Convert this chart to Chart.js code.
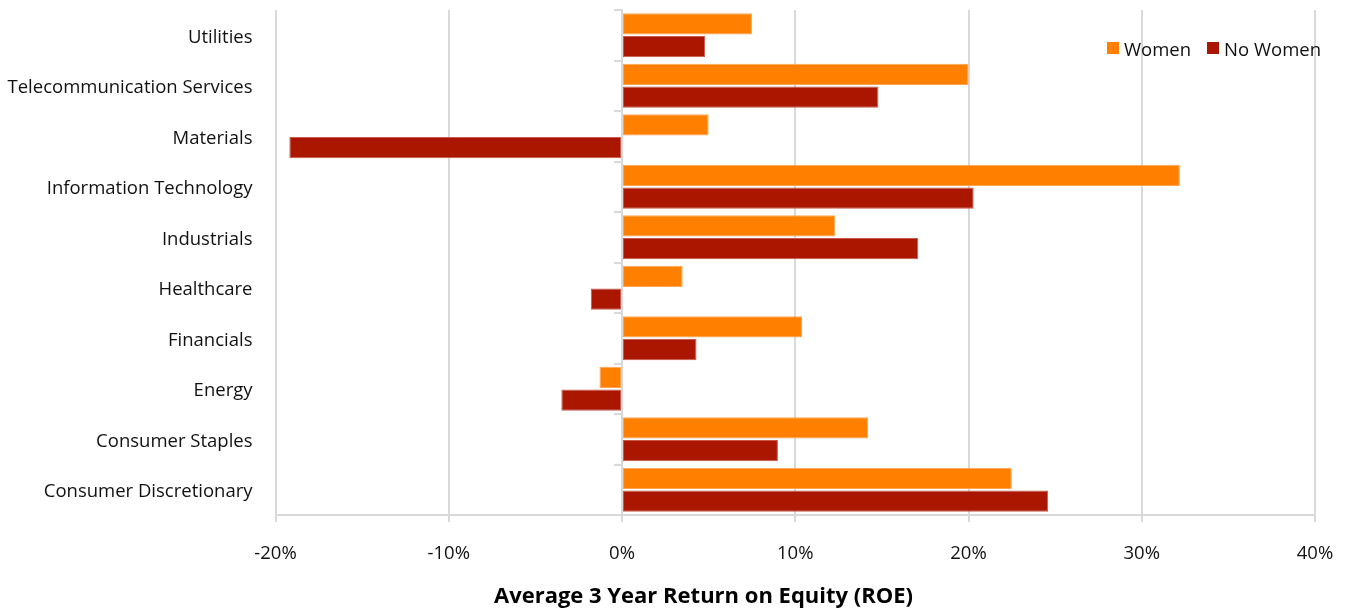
<!DOCTYPE html>
<html>
<head>
<meta charset="utf-8">
<script src="https://cdn.jsdelivr.net/npm/chart.js@4.4.1/dist/chart.umd.min.js"></script>
<style>
  html, body { margin: 0; padding: 0; background: #ffffff; }
  #wrap { position: relative; width: 1349px; height: 612px; }
  #chart { display: block; }
  #legend { position: absolute; left: 1107px; top: 38px; height: 20px; display: flex; align-items: center;
            font-family: "Open Sans", sans-serif; font-size: 18.5px; color: #111111; white-space: nowrap; }
  .item { display: flex; align-items: center; margin-right: 16px; }
  .swatch { width: 12px; height: 12px; margin-right: 5px; }
  #axisTitle { position: absolute; left: 0; width: 1407px; top: 581px; text-align: center;
               font-family: "Open Sans", sans-serif; font-weight: bold; font-size: 22px; line-height: 26px;
               color: #000000; white-space: nowrap; }
</style>
</head>
<body>
<div id="wrap">
  <canvas id="chart" width="1349" height="612"></canvas>
  <div id="legend"></div>
  <div id="axisTitle"></div>
</div>
<script>
// ---- data ----
const categories = [
  "Utilities",
  "Telecommunication Services",
  "Materials",
  "Information Technology",
  "Industrials",
  "Healthcare",
  "Financials",
  "Energy",
  "Consumer Staples",
  "Consumer Discretionary"
];
const women   = [7.5, 20.0,   5.0, 32.2, 12.3,  3.5, 10.4, -1.3, 14.2, 22.5];
const noWomen = [4.8, 14.8, -19.2, 20.3, 17.1, -1.8,  4.3, -3.5,  9.0, 24.6];
const seriesNames = ["Women", "No Women"];
const xTickValues = [-20, -10, 0, 10, 20, 30, 40];
const axisTitle = "Average 3 Year Return on Equity (ROE)";

// ---- styles ----
const colors = ["#ff7f00", "#aa1600"];
const edgeColors = ["#ffa552", "#c75a4c"];
const fontFamily = "'Open Sans', sans-serif";
const gridColor = "#d9d9d9";

const datasets = [women, noWomen].map((vals, i) => ({
  label: seriesNames[i],
  data: vals,
  backgroundColor: colors[i],
  borderColor: edgeColors[i],
  borderWidth: 1,
  borderSkipped: false,
  categoryPercentage: 0.9,
  barPercentage: 0.93,
  yAxisID: "y",
  xAxisID: "x"
}));

const chart = new Chart(document.getElementById("chart"), {
  type: "bar",
  data: { labels: categories, datasets: datasets },
  options: {
    indexAxis: "y",
    responsive: false,
    devicePixelRatio: 1,
    animation: false,
    layout: { padding: { left: 0, right: 34, top: 10, bottom: 0 } },
    plugins: {
      legend: { display: false },
      tooltip: { enabled: false },
      title: { display: false }
    },
    scales: {
      x: {
        type: "linear",
        min: -20,
        max: 40,
        afterBuildTicks: (s) => { s.ticks = xTickValues.map(v => ({ value: v })); },
        afterFit: (s) => { s.height = 97; s.paddingLeft = 0; s.paddingRight = 0; },
        ticks: {
          callback: (v) => v + "%",
          color: "#111111",
          font: { family: fontFamily, size: 18.5 },
          padding: 21,
          maxRotation: 0
        },
        grid: { color: gridColor, lineWidth: 2, tickLength: 7, drawTicks: true },
        border: { display: true, color: gridColor, width: 2 }
      },
      y: {
        type: "category",
        position: "left",
        afterFit: (s) => { s.width = 275.5; s.paddingTop = 0; s.paddingBottom = 0; },
        ticks: {
          color: "#111111",
          font: { family: fontFamily, size: 18.5 },
          padding: 15,
          labelOffset: 2
        },
        grid: { display: false },
        border: { display: false }
      },
      y2: {
        type: "category",
        axis: "y",
        position: { x: 0 },
        offset: true,
        ticks: { display: false },
        grid: { offset: true, drawOnChartArea: false, color: gridColor, lineWidth: 2, tickLength: 7 },
        border: { display: true, color: gridColor, width: 2 }
      }
    }
  }
});

// axis title as real text
document.getElementById("axisTitle").textContent = axisTitle;

// HTML legend built from the datasets
const legendEl = document.getElementById("legend");
chart.data.datasets.forEach((ds) => {
  const item = document.createElement("div");
  item.className = "item";
  const sw = document.createElement("span");
  sw.className = "swatch";
  sw.style.background = ds.backgroundColor;
  const tx = document.createElement("span");
  tx.textContent = ds.label;
  item.appendChild(sw);
  item.appendChild(tx);
  legendEl.appendChild(item);
});
</script>
</body>
</html>
